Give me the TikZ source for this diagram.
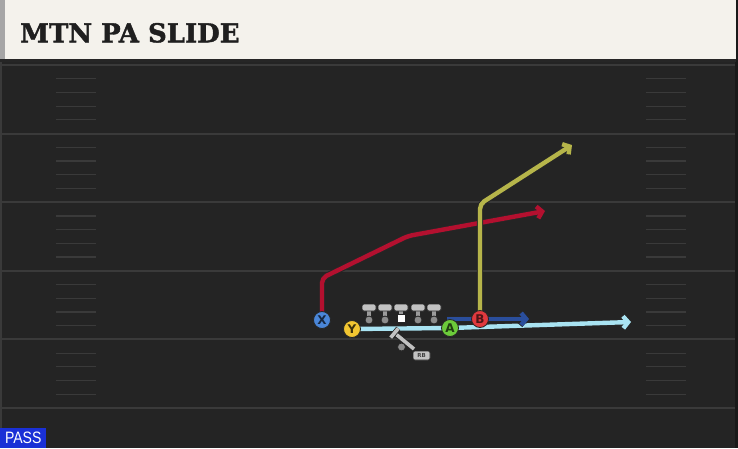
\documentclass[tikz,border=0pt]{standalone}
\usepackage{fontspec}
\setsansfont{DejaVu Sans}
\newfontfamily\titlefont[BoldFeatures={FakeBold=1.6}]{DejaVu Serif}
\newfontfamily\passfont[FakeStretch=0.85]{Liberation Sans}
\usetikzlibrary{arrows.meta,positioning}
\pgfdeclarelayer{back}
\pgfsetlayers{back,main}
\definecolor{turf}{HTML}{242424}
\definecolor{chalk}{HTML}{3A3A3A}
\definecolor{paper}{HTML}{F4F2EC}
\definecolor{passblue}{HTML}{1A30D6}
\definecolor{xblue}{HTML}{4A86D8}
\definecolor{yyellow}{HTML}{F2C631}
\definecolor{agreen}{HTML}{6CCB3A}
\definecolor{bred}{HTML}{E0393E}
\definecolor{rtred}{HTML}{B3102F}
\definecolor{rtolive}{HTML}{B6B54A}
\definecolor{rtblue}{HTML}{2A4E9C}
\definecolor{rtsky}{HTML}{A9E3F2}
\definecolor{olgrey}{HTML}{C2C2C2}
\definecolor{oldark}{HTML}{8C8C8C}

\begin{document}
\begin{tikzpicture}[x=1pt,y=-1pt,
    player/.style={circle,draw=black!85,line width=0.8pt,minimum size=17pt,inner sep=0pt,
      font=\sffamily\bfseries\fontsize{12}{12}\selectfont},
    route/.style={line width=4.4pt,rounded corners=5pt,
      preaction={draw=black!85,line width=6.4pt},
      -{Straight Barb[length=5pt,width=12pt]}},
    yardline/.style={chalk,line width=2pt},
    hashmark/.style={chalk,line width=1.2pt},
    olpart/.style={draw=black!85,line width=0.8pt}]
  \useasboundingbox (0,0) rectangle (738,448);

  \node[player,fill=xblue,text=xblue!30!black]     (X) at (322,320) {X};
  \node[player,fill=yyellow,text=yyellow!25!black] (Y) at (352,329) {Y};
  \node[player,fill=agreen,text=agreen!30!black]   (A) at (450,328) {A};
  \node[player,fill=bred,text=bred!35!black]       (B) at (480,319) {B};

  \coordinate (xup)   at (322,278);
  \coordinate (xbrk)  at (408,236);
  \coordinate (xend)  at (545,211);
  \coordinate (bup)   at (480,204);
  \coordinate (bend)  at (572,145);
  \coordinate (mstart) at (447,319);
  \coordinate (mend)  at (529,319);
  \coordinate (aend)  at (631,322);

  \node[rounded corners=2pt,fill=olgrey,draw=black!85,line width=0.6pt,inner sep=0pt,
    minimum width=17pt,minimum height=9pt,text=black!75,
    font=\sffamily\bfseries\fontsize{5.5}{5.5}\selectfont] (rb) at (421.5,355.5) {RB};

  \node[fill=passblue,text=white,anchor=south west,inner sep=0pt,
    minimum width=46pt,minimum height=20pt,
    font=\passfont\fontsize{16.5}{16.5}\selectfont] (pass) at (0,448) {PASS};

  \begin{pgfonlayer}{back}
    \fill[turf] (0,0) rectangle (738,448);
    \fill[black!90] (735,0) rectangle (738,448);
    \fill[chalk] (0,60) rectangle (2,448);
    \foreach \y in {65,133.6,202.2,270.8,339.4,408}
      \draw[yardline] (0,\y) -- (735,\y);
    \foreach \y in {65,133.6,202.2,270.8,339.4}
      \foreach \k in {1,...,4}{
        \draw[hashmark] (56,{\y+\k*13.72}) -- (96,{\y+\k*13.72});
        \draw[hashmark] (646,{\y+\k*13.72}) -- (686,{\y+\k*13.72});
      }
    \fill[black!85] (0,58) rectangle (736,62);
    \fill[paper] (0,0) rectangle (736,58.5);
    \fill[black!35] (0,0) rectangle (4.5,58.5);
    \node[anchor=base west,inner sep=0pt,text=black!88,
      font=\titlefont\bfseries\fontsize{26}{26}\selectfont] (title) at (20,42.3) {MTN PA SLIDE};

    \draw[route,rtsky] (Y.center) -- (A.center) -- (aend);
    \draw[route,rtblue] (mstart) -- (mend);
    \draw[route,rtred] (X.center) -- (xup) -- (xbrk) -- (xend);
    \draw[route,rtolive] (B.center) -- (bup) -- (bend);
  \end{pgfonlayer}

  \foreach \x in {369,385,401,418,434}{
    \filldraw[olpart,fill=olgrey!80!black] (\x-2.3,309) rectangle (\x+2.3,318);
    \filldraw[olpart,fill=olgrey,rounded corners=1.5pt] (\x-7,304) rectangle (\x+7,311);
  }
  \foreach \x in {369,385,418,434}
    \filldraw[olpart,fill=oldark] (\x,320) circle (4);
  \filldraw[olpart,fill=white] (397.5,314.5) rectangle (405,322);

  \draw[black!85,line width=5.2pt] (394.5,333) -- (414,349);
  \draw[olgrey,line width=3.6pt] (394.5,333) -- (414,349);
  \draw[black!85,line width=5.2pt] (390.7,337.6) -- (398.3,328.4);
  \draw[olgrey,line width=3.6pt] (390.7,337.6) -- (398.3,328.4);
  \filldraw[olpart,fill=oldark] (401.5,347) circle (4);
  \node[rounded corners=2pt,fill=olgrey,draw=black!85,line width=0.6pt,inner sep=0pt,
    minimum width=17pt,minimum height=9pt,text=black!75,
    font=\sffamily\bfseries\fontsize{5.5}{5.5}\selectfont] at (rb) {RB};
\end{tikzpicture}
\end{document}
